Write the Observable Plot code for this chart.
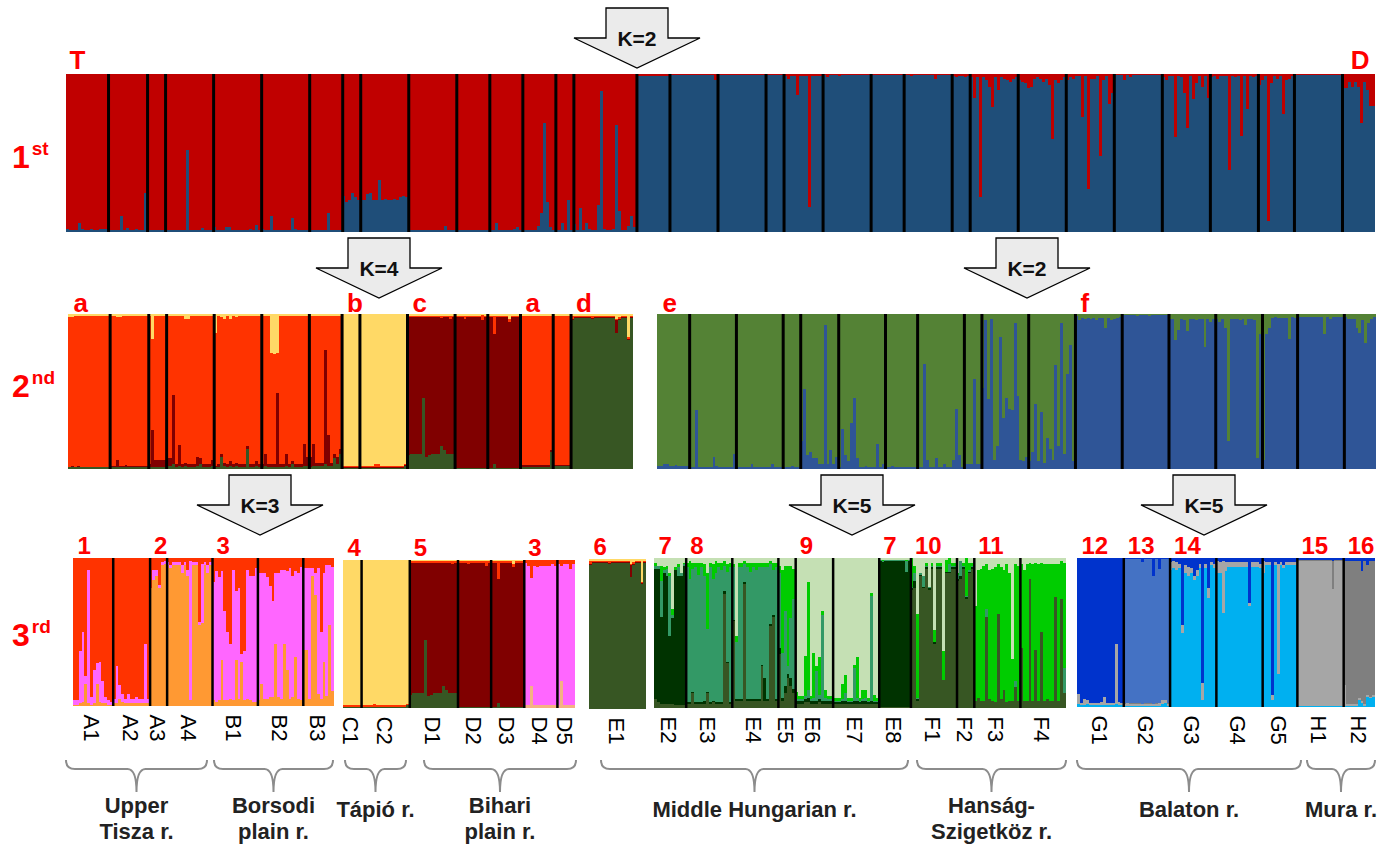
<!DOCTYPE html>
<html>
<head>
<meta charset="utf-8">
<script src="https://cdn.jsdelivr.net/npm/d3@7"></script>
<script src="https://cdn.jsdelivr.net/npm/@observablehq/plot@0.6"></script>
<style>
  body { margin: 0; background: #fff; font-family: "Liberation Sans", Arial, sans-serif; }
  #fig { position: relative; width: 1390px; height: 847px; overflow: hidden; background: #fff; }
  #fig > svg { position: absolute; }
</style>
</head>
<body>
<div id="fig"></div>
<script>
// ---------------------------------------------------------------------------
// Sampling sites and number of genotyped individuals per site
// ---------------------------------------------------------------------------
const popCodes = ["A1","A2","A3","A4","B1","B2","B3","C1","C2","D1","D2","D3","D4","D5",
  "E1","E2","E3","E4","E5","E6","E7","E8","F1","F2","F3","F4","G1","G2","G3","G4","G5","H1","H2"];
const sampleSizes = [14,13,6,16,16,16,11,6,16,16,11,11,11,6,
  21,11,16,16,6,13,16,11,16,6,16,16,16,16,16,16,12,16,11];

// Each entry: [site, typical membership, deviating individuals]
// Membership lists follow the stacking order of the panel (bottom -> top).
// A single number is the share of the bottom cluster of a K = 2 run.
// Deviations are {index: membership} or a full list for every individual.

// 1st level, K = 2 : share of cluster D (bottom), the rest is cluster T
const level1Clusters = ["D", "T"];
const level1 = [
  ["A1", .015, {0:.02,4:.06,5:.02,8:.02,11:.02,12:.02,13:.02}],
  ["A2", .015, {4:.10,6:.025,9:.02,12:.245}],
  ["A3", .01, {2:.015}],
  ["A4", .01, {7:.52,12:.025}],
  ["B1", .015, {0:.03,4:.03,5:.03,12:.02,14:.045}],
  ["B2", .015, {0:.02,3:.10,10:.09,11:.02}],
  ["B3", .01, {6:.12,7:.015}],
  ["C1", .20, {0:.23,1:.19,3:.245,4:.22}],
  ["C2", .20, {2:.24,3:.25,6:.33,8:.21,11:.21,13:.22,14:.23,15:.22}],
  ["D1", .01, {1:.015,12:.04}],
  ["D2", .01, {5:.015}],
  ["D3", .01, {2:.055,8:.02,9:.03}],
  ["D4", .015, {5:.04,6:.12,7:.69,8:.19,9:.03}],
  ["D5", .015, {2:.06,4:.20}],
  ["E1", .015, {0:.05,2:.15,4:.06,5:.02,8:.17,9:.89,10:.02,13:.02,14:.68,15:.13,18:.04,19:.10,20:.03}],
  ["E2", .99, {3:.985,6:.985}],
  ["E3", .992, {15:.965}],
  ["E4", .994, {}],
  ["E5", .994, {}],
  ["E6", .99, {1:.97,4:.87,8:.16}],
  ["E7", .994, {1:.98,5:.988}],
  ["E8", .994, {}],
  ["F1", .992, {2:.988,10:.97}],
  ["F2", .988, {1:.98,4:.98}],
  ["F3", .98, {1:.85,3:.22,5:.96,6:.915,7:.79,9:.90,11:.97,12:.96,13:.95,14:.97}],
  ["F4", .97, {0:.96,1:.95,2:.94,3:.91,4:.92,6:.98,8:.95,10:.93,11:.59,12:.96,13:.94,14:.96,15:.98}],
  ["G1", .985, {0:.96,1:.98,2:.97,5:.73,7:.27,8:.97,9:.97,11:.48,12:.96,14:.81,15:.88}],
  ["G2", .992, {3:.96,5:.98}],
  ["G3", .985, {0:.98,1:.96,4:.60,6:.98,7:.88,8:.66,10:.84,11:.94,13:.92,15:.85}],
  ["G4", .988, {0:.98,2:.97,6:.39,8:.98,10:.61,12:.78,14:.98}],
  ["G5", .985, {0:.93,1:.96,3:.07,4:.94,6:.97,8:.75,9:.96,10:.97}],
  ["H1", .994, {}],
  ["H2", .95, {0:.91,1:.91,3:.92,5:.92,6:.69,8:.90,9:.80,10:.80}]
];

// 2nd level, western group, K = 4 : clusters d, c, a, b (bottom -> top)
const level2WestClusters = ["d", "c", "a", "b"];
const level2West = [
  ["A1", [.01,.005,.975,.01], {0:[.01,.005,.965,.02],1:[.015,.005,.96,.02],3:[.01,.01,.97,.01]}],
  ["A2", [.01,.01,.97,.01], {2:[.01,.05,.92,.02],3:[.01,.01,.96,.02],5:[.015,.01,.96,.015]}],
  ["A3", [.01,.05,.93,.01], {0:[.01,.02,.96,.01],1:[.01,.24,.59,.16]}],
  ["A4", [.015,.02,.955,.01], {0:[.02,.05,.92,.01],1:[.02,.05,.92,.01],2:[.03,.445,.515,.01],4:[.02,.136,.834,.01],6:[.02,.02,.925,.035],7:[.01,.02,.94,.03],10:[.02,.06,.91,.01],11:[.03,.04,.92,.01],15:[.02,.04,.93,.01]}],
  ["B1", [.015,.015,.955,.015], {0:[.01,.01,.86,.12],2:[.08,.02,.88,.02],3:[.02,.02,.93,.03],5:[.02,.03,.92,.03],7:[.02,.02,.94,.02],11:[.13,.02,.84,.01],14:[.02,.03,.94,.01]}],
  ["B2", [.015,.015,.96,.01], {1:[.02,.08,.89,.01],3:[.01,.02,.72,.25],4:[.01,.02,.71,.26],5:[.01,.48,.26,.25],8:[.02,.08,.89,.01],10:[.03,.02,.94,.01],14:[.02,.14,.83,.01],15:[.02,.06,.91,.01]}],
  ["B3", [.02,.02,.95,.01], {0:[.01,.07,.91,.01],1:[.02,.14,.83,.01],5:[.03,.74,.22,.01],6:[.02,.20,.77,.01],8:[.07,.03,.89,.01],9:[.03,.05,.91,.01],10:[.10,.03,.86,.01]}],
  ["C1", [.005,.005,.01,.98], {}],
  ["C2", [.005,.005,.01,.98], {5:[.005,.01,.02,.965],6:[.005,.005,.02,.97],15:[.02,.005,.005,.97]}],
  ["D1", [.10,.88,.01,.01], {0:[.09,.89,.01,.01],5:[.46,.52,.01,.01],6:[.08,.90,.01,.01],7:[.09,.89,.01,.01],11:[.147,.83,.013,.01],12:[.12,.86,.01,.01],14:[.10,.87,.02,.01]}],
  ["D2", [.005,.975,.01,.01], {3:[.005,.965,.02,.01],9:[.005,.955,.035,.005]}],
  ["D3", [.005,.975,.01,.01], {2:[.035,.835,.12,.01],7:[.005,.945,.02,.03]}],
  ["D4", [.015,.01,.965,.01], {10:[.11,.01,.87,.01]}],
  ["D5", [.02,.005,.965,.01], {}],
  ["E1", [.975,.005,.01,.01], {0:[.96,.005,.02,.015],7:[.965,.01,.015,.01],15:[.88,.08,.01,.03],16:[.96,.01,.01,.02],19:[.835,.005,.01,.15]}]
];

// 2nd level, eastern group, K = 2 : share of cluster f (bottom), the rest is cluster e
const level2EastClusters = ["f", "e"];
const level2East = [
  ["E2", .02, {2:.035,3:.03,6:.025}],
  ["E3", .015, {2:.38,8:.08,9:.02,15:.10}],
  ["E4", .015, {5:.03,12:.03}],
  ["E5", .015, {3:.02}],
  ["E6", .03, {0:.18,1:.515,2:.09,3:.11,4:.07,5:.07,8:.93,10:.12,12:.08}],
  ["E7", .015, {1:.26,2:.09,3:.05,4:.30,5:.46,6:.07,9:.02,13:.16,15:.03}],
  ["E8", .015, {2:.02}],
  ["F1", .015, {2:.68,3:.06,6:.07,9:.03,12:.06,13:.385,14:.09}],
  ["F2", .03, {3:.58}],
  ["F3", .05, {0:.52,1:.96,2:.45,3:.97,4:.06,5:.15,6:.85,7:.33,8:.46,9:.39,10:.38,11:.94,12:.47,13:.06,15:.08}],
  ["F4", .05, {1:.11,2:.42,4:.37,5:.04,6:.20,7:.13,8:.06,9:.67,10:.15,11:.94,12:.10,13:.61,14:.80}],
  ["G1", .975, {0:.99,1:.96,3:.97,5:.97,7:.96,10:.91,12:.96,13:.97,15:.98}],
  ["G2", .992, {5:.985,9:.99}],
  ["G3", .97, {2:.83,3:.90,5:.96,6:.89,8:.97,9:.96,12:.79,14:.95}],
  ["G4", .97, {1:.95,3:.91,4:.18,8:.96,10:.93,13:.96,14:.07,15:.87}],
  ["G5", .975, {0:.06,1:.87,2:.91,4:.98,9:.84,10:.98}],
  ["H1", .98, {9:.87,11:.97}],
  ["H2", .97, {0:.98,4:.91,5:.88,6:.96,7:.81,8:.94,10:.98}]
];

// 3rd level, Upper Tisza + Borsodi plain, K = 3 : clusters 2, 3, 1 (bottom -> top)
const level3TiszaClusters = ["2", "3", "1"];
const level3Tisza = [
  ["A1", null, [[.01,.03,.96],[.01,.03,.96],[.02,.35,.63],[.03,.47,.50],[.15,.05,.80],[.02,.90,.08],[.01,.05,.94],[.02,.22,.76],[.15,.14,.71],[.03,.27,.70],[.02,.15,.83],[.02,.04,.94],[.01,.03,.96],[.01,.02,.97]]],
  ["A2", [.02,.03,.95], {1:[.02,.25,.73],2:[.05,.09,.86],3:[.03,.05,.92],5:[.02,.06,.92],8:[.02,.04,.94],11:[.02,.40,.58]}],
  ["A3", null, [[.80,0,.20],[.85,.07,.08],[.88,.04,.08],[.80,.02,.18],[.95,.02,.03],[.96,.02,.02]]],
  ["A4", [.95,.02,.03], {1:[.93,.02,.05],5:[.90,.05,.05],7:[.88,.04,.08],8:[.04,.94,.02],11:[.55,.02,.43],12:[.56,.40,.04],14:[.90,.05,.05]}],
  ["B1", null, [[.04,.80,.16],[.03,.88,.09],[.04,.83,.13],[.31,.60,.09],[.04,.60,.36],[.04,.46,.50],[.05,.37,.58],[.04,.88,.08],[.31,.47,.22],[.05,.75,.20],[.30,.05,.65],[.04,.33,.63],[.05,.87,.08],[.04,.84,.12],[.03,.85,.12],[.03,.90,.07]]],
  ["B2", null, [[.04,.86,.10],[.15,.75,.10],[.05,.85,.10],[.05,.82,.13],[.06,.75,.19],[.06,.65,.29],[.42,.48,.10],[.06,.84,.10],[.05,.87,.08],[.42,.50,.08],[.24,.67,.09],[.05,.88,.07],[.06,.82,.12],[.33,.58,.09],[.05,.85,.10],[.04,.90,.06]]],
  ["B3", null, [[.38,.55,.07],[.38,.55,.07],[.05,.88,.07],[.88,.05,.07],[.75,.15,.10],[.08,.85,.07],[.05,.45,.50],[.30,.60,.10],[.07,.88,.05],[.55,.40,.05],[.10,.84,.06]]]
];

// 3rd level, Tápió + Bihari plain : clusters 5-green, peach, 3, 5, 1, 4 (bottom -> top)
const level3BiharClusters = ["g", "p", "3", "5", "1", "4"];
const level3Bihar = [
  ["C1", [.005,0,0,.005,.01,.98], {}],
  ["C2", [.005,0,0,.005,.01,.98], {4:[.005,0,0,.005,.02,.97],15:[.02,0,0,0,.01,.97]}],
  ["D1", [.10,0,0,.88,.01,.01], {0:[.09,0,0,.89,.01,.01],5:[.46,0,0,.52,.01,.01],6:[.08,0,0,.90,.01,.01],7:[.09,0,0,.89,.01,.01],11:[.147,0,0,.83,.013,.01],12:[.12,0,0,.86,.01,.01],14:[.10,0,0,.87,.02,.01]}],
  ["D2", [.005,0,0,.975,.01,.01], {3:[.005,0,0,.965,.02,.01],9:[.005,0,0,.955,.035,.005]}],
  ["D3", [.005,0,0,.975,.01,.01], {2:[.035,0,0,.835,.12,.01],7:[.005,0,0,.945,.02,.03]}],
  ["D4", [0,.02,.94,0,.04,0], {0:[0,.02,.96,0,.02,0],2:[0,.15,.73,0,.12,0],4:[0,.02,.93,0,.05,0],9:[0,.02,.95,0,.03,0]}],
  ["D5", [0,.02,.95,0,.03,0], {1:[0,.18,.78,0,.04,0],4:[0,.02,.92,0,.06,0]}]
];

// 3rd level, E1 on its own : clusters 6, dark red, red, yellow (bottom -> top)
const level3E1Clusters = ["6", "dr", "r", "y"];
const level3E1 = [
  ["E1", [.975,.005,.01,.01], {0:[.96,.005,.02,.015],7:[.965,.01,.015,.01],15:[.88,.08,.01,.03],16:[.96,.01,.01,.02],19:[.835,.005,.01,.15]}]
];

// 3rd level, Middle Hungarian + Hanság-Szigetköz, K = 5 : clusters 10, 7, 8, 11, 9 (bottom -> top)
const level3MiddleClusters = ["10", "7", "8", "11", "9"];
const level3Middle = [
  ["E2", null, [[.06,.87,.02,.02,.03],[.04,.89,.02,0,.05],[.03,.58,.24,.10,.05],[.03,.87,.02,.02,.06],[.03,.85,.05,.02,.05],[.03,.45,.40,.02,.10],[.03,.57,.02,.04,.34],[.02,.90,0,.02,.06],[.02,.86,.06,.02,.04],[.02,.86,.02,0,.10],[.02,.93,.01,.01,.03]]],
  ["E3", [.03,.01,.90,.03,.03], {1:[.03,.01,.82,.12,.02],2:[.10,.01,.82,.04,.03],4:[.03,.01,.85,.08,.03],6:[.03,.02,.83,.08,.04],7:[.10,.01,.42,.37,.10],9:[.04,.01,.81,.10,.04],10:[.03,.01,.86,.08,.02],12:[.03,.01,.88,.05,.03],13:[.76,.02,.17,.03,.02],14:[.30,.01,.60,.05,.04]}],
  ["E4", [.05,.01,.88,.03,.03], {0:[.58,.01,.35,.02,.04],1:[.05,.01,.38,.04,.52],4:[.83,.01,.12,.02,.02],6:[.05,.01,.85,.06,.03],8:[.05,.01,.86,.05,.03],10:[.28,.01,.65,.03,.03],11:[.05,.15,.74,.03,.03],13:[.55,.01,.40,.02,.02],14:[.61,.01,.30,.05,.03]}],
  ["E5", null, [[.36,.04,.50,.05,.05],[.05,.02,.30,.55,.08],[.10,.05,.50,.30,.05],[.20,.03,.05,.67,.05],[.15,.05,.40,.35,.05],[.10,.03,.60,.20,.07]]],
  ["E6", [.03,.02,.01,.02,.92], {0:[.03,.02,.01,.05,.89],3:[.04,.02,.02,.27,.65],4:[.04,.03,.05,.72,.16],6:[.03,.02,.02,.30,.63],7:[.03,.02,.20,.03,.72],8:[.04,.02,.03,.25,.66],9:[.03,.02,.57,.03,.35],10:[.03,.02,.02,.05,.88]}],
  ["E7", [.025,.015,.01,.02,.93], {3:[.03,.02,.01,.10,.84],4:[.03,.02,.05,.12,.78],7:[.03,.02,.22,.02,.71],8:[.03,.02,.02,.27,.66],10:[.03,.02,.01,.06,.88],11:[.03,.02,.02,.05,.88],13:[.03,.02,.70,.02,.23],14:[.03,.01,.01,.04,.91]}],
  ["E8", [.005,.975,.005,.005,.01], {1:[.005,.97,.005,.01,.01],9:[.01,.90,.07,.01,.01]}],
  ["F1", [.93,.01,.01,.02,.03], {0:[.79,.01,.01,.19,0],1:[.80,.05,.05,.05,.05],2:[.05,.01,.01,.56,.37],3:[.88,.01,.01,0,.10],4:[.80,.01,.07,0,.12],6:[.79,.01,.01,0,.19],8:[.43,.01,0,.08,.48],11:[.19,0,0,.19,.62],12:[.90,.01,0,.08,.01],13:[.90,.01,.05,.04,0]}],
  ["F2", [.93,.01,.01,.02,.03], {0:[.85,.01,.03,.01,.10],1:[.86,.02,.10,0,.02],3:[.73,.01,.01,.25,0],4:[.90,.01,.01,.05,.03]}],
  ["F3", null, [[.05,0,0,.63,.32],[.07,0,0,.85,.08],[.05,0,0,.88,.07],[.05,0,0,.90,.05],[.61,0,.05,.30,.04],[.06,0,0,.86,.08],[.05,0,0,.88,.07],[.04,0,0,.90,.06],[.63,0,0,.33,.04],[.06,0,0,.88,.06],[.12,0,0,.80,.08],[.04,0,0,.92,.04],[.05,0,0,.85,.10],[.05,0,0,.28,.67],[.14,0,.04,.78,.04],[.05,0,0,.90,.05]]],
  ["F4", [.05,0,0,.91,.04], {0:[.40,0,0,.56,.04],1:[.05,0,0,.87,.08],3:[.86,0,0,.11,.03],5:[.39,0,0,.58,.03],7:[.51,0,0,.46,.03],9:[.06,0,0,.90,.04],12:[.74,0,0,.22,.04],14:[.73,0,0,.25,.02],15:[.10,0,.17,.70,.03]}]
];

// 3rd level, Balaton + Mura, K = 5 : clusters 14, 15, 16, 13, 12 (bottom -> top)
const level3BalatonClusters = ["14", "15", "16", "13", "12"];
const level3Balaton = [
  ["G1", [.015,.01,.005,0,.97], {0:[.02,.07,0,0,.91],2:[.015,.04,0,0,.945],3:[.02,.03,0,0,.95],8:[.015,.02,0,0,.965],9:[.015,.05,0,0,.935],13:[.02,.40,0,0,.58],14:[.015,.02,0,0,.965]}],
  ["G2", [.01,.01,.005,.97,.005], {1:[.01,.02,0,.96,.01],6:[.01,.01,0,.95,.03],10:[.01,.01,0,.86,.12],12:[.01,.015,0,.90,.075],13:[.02,.03,0,.94,.01],14:[.03,.02,0,.94,.01]}],
  ["G3", [.93,.03,0,0,.04], {0:[.92,.05,0,0,.03],1:[.93,.05,0,0,.02],2:[.92,.05,0,0,.03],4:[.50,.05,0,0,.45],5:[.90,.05,0,0,.05],6:[.88,.06,0,0,.06],7:[.90,.03,0,0,.07],8:[.85,.03,0,0,.12],9:[.88,.04,0,0,.08],11:[.05,.11,0,0,.84],13:[.73,.07,0,0,.20],14:[.95,.02,0,0,.03]}],
  ["G4", [.94,.03,0,0,.03], {0:[.90,.08,0,0,.02],1:[.90,.07,0,0,.03],2:[.63,.35,0,0,.02],3:[.91,.06,0,0,.03],11:[.68,.02,0,0,.30],15:[.93,.03,0,0,.04]}],
  ["G5", [.95,.02,0,0,.03], {0:[.90,.08,0,0,.02],3:[.05,.03,0,0,.92],5:[.22,.74,0,0,.04],7:[.93,.02,0,0,.05]}],
  ["H1", [.01,.97,.005,0,.015], {12:[.01,.78,.19,0,.02]}],
  ["H2", [.01,.01,.96,0,.02], {0:[.01,.14,.83,0,.02],5:[.05,.01,.92,0,.02],6:[.03,.01,.87,0,.09],8:[.07,.01,.87,0,.05],9:[.06,.01,.91,0,.02],10:[.07,.01,.90,0,.02]}]
];

// Cluster letters / numbers written above the bar plots: [site, label]
const level1Heads = [["A1", "T"]];
const level1TailHeads = [["H2", "D"]];
const level2WestHeads = [["A1","a"],["C1","b"],["D1","c"],["D4","a"],["E1","d"]];
const level2EastHeads = [["E2","e"],["G1","f"]];
const level3TiszaHeads = [["A1","1"],["A3","2"],["B1","3"]];
const level3BiharHeads = [["C1","4"],["D1","5"],["D4","3"]];
const level3E1Heads = [["E1","6"]];
const level3MiddleHeads = [["E2","7"],["E3","8"],["E6","9"],["E8","7"],["F1","10"],["F3","11"]];
const level3BalatonHeads = [["G1","12"],["G2","13"],["G3","14"],["H1","15"],["H2","16"]];

// Regions (one brace each)
const regionNames = [["Upper", "Tisza r."], ["Borsodi", "plain r."], ["Tápió r."], ["Bihari", "plain r."],
  ["Middle Hungarian r."], ["Hanság-", "Szigetköz r."], ["Balaton r."], ["Mura r."]];

// Successive STRUCTURE runs (arrow labels)
const runLabels = ["K=2", "K=4", "K=2", "K=3", "K=5", "K=5"];

// ---------------------------------------------------------------------------
const fig = d3.select("#fig");
const RED = "#FF0000";
const FONT = "'Liberation Sans', Arial, Helvetica, sans-serif";

// Turn a panel specification into stacked rectangles, one column per individual
function expand(spec) {
  const rows = [], sites = [];
  let i = 0;
  for (const [code, base, extra] of spec) {
    const n = sampleSizes[popCodes.indexOf(code)];
    sites.push({code, start: i, end: i + n, mid: i + n / 2});
    for (let j = 0; j < n; j++, i++) {
      let q = Array.isArray(extra) ? extra[j] : (extra[j] ?? base);
      if (typeof q === "number") q = [q, 1 - q];
      const total = d3.sum(q);
      let acc = 0;
      q.forEach((v, k) => {
        if (v > 0) rows.push({i, k, y1: acc / total, y2: (acc + v) / total});
        acc += v;
      });
    }
  }
  return {rows, sites, n: i};
}

function structurePanel({spec, colors, left, top, width, height, sep = 3,
                         heads = [], tailHeads = [], headSize = 24, headGap = 5, headDx = 4,
                         ticks = false}) {
  const {rows, sites, n} = expand(spec);
  const siteOf = code => sites.find(s => s.code === code);
  const mt = 40, mb = ticks ? 60 : 6, ml = 12, mr = 12;
  const marks = [
    Plot.rect(rows, {x1: "i", x2: d => d.i + 1, y1: "y1", y2: "y2", fill: "k", shapeRendering: "crispEdges"}),
    Plot.ruleX(sites.slice(1), {x: "start", stroke: "#000", strokeWidth: sep}),
    Plot.text(heads, {x: d => siteOf(d[0]).start, y: 1, text: d => d[1], textAnchor: "start", lineAnchor: "bottom",
      dx: headDx, dy: -headGap, fill: RED, fontWeight: "bold", fontSize: headSize, fontFamily: FONT}),
    Plot.text(tailHeads, {x: d => siteOf(d[0]).end, y: 1, text: d => d[1], textAnchor: "end", lineAnchor: "bottom",
      dx: -6, dy: -headGap, fill: RED, fontWeight: "bold", fontSize: headSize, fontFamily: FONT})
  ];
  if (ticks) {
    marks.push(Plot.text(sites, {x: "mid", y: 0, text: "code", rotate: 90, textAnchor: "start",
      dy: 8, dx: -2, fontSize: 22, fill: "#000", fontFamily: FONT}));
  }
  const svg = Plot.plot({
    width: width + ml + mr, height: height + mt + mb,
    marginTop: mt, marginBottom: mb, marginLeft: ml, marginRight: mr,
    x: {domain: [0, n], axis: null},
    y: {domain: [0, 1], axis: null},
    color: {type: "ordinal", domain: d3.range(colors.length), range: colors},
    style: {background: "none", overflow: "visible"},
    marks
  });
  svg.style.position = "absolute";
  svg.style.left = (left - ml) + "px";
  svg.style.top = (top - mt) + "px";
  fig.node().appendChild(svg);
}

// 1st level
structurePanel({spec: level1, colors: ["#1F4E79", "#C00000"], left: 66, top: 74, width: 1309, height: 158,
  heads: level1Heads, tailHeads: level1TailHeads, headSize: 26, headGap: 6, headDx: 3});

// 2nd level
structurePanel({spec: level2West, colors: ["#375623", "#800000", "#FF3300", "#FFD966"],
  left: 68, top: 314, width: 565, height: 155, heads: level2WestHeads, headSize: 26, headGap: 3, headDx: 5});
structurePanel({spec: level2East, colors: ["#2F5597", "#548235"],
  left: 657, top: 314, width: 719, height: 155, heads: level2EastHeads, headSize: 26, headGap: 3, headDx: 5});

// 3rd level
structurePanel({spec: level3Tisza, colors: ["#FF9933", "#FF66FF", "#FF3300"],
  left: 73, top: 558, width: 261, height: 148, sep: 2.5, heads: level3TiszaHeads, ticks: true});
structurePanel({spec: level3Bihar, colors: ["#375623", "#F4B183", "#FF66FF", "#800000", "#FF3300", "#FFD966"],
  left: 343, top: 560, width: 232, height: 148, sep: 2.5, heads: level3BiharHeads, ticks: true});
structurePanel({spec: level3E1, colors: ["#375623", "#800000", "#FF3300", "#FFD966"],
  left: 589, top: 559, width: 57, height: 150, sep: 2.5, heads: level3E1Heads, ticks: true});
structurePanel({spec: level3Middle, colors: ["#375623", "#003300", "#339966", "#00CC00", "#C5E0B4"],
  left: 654, top: 558, width: 412, height: 150, sep: 2.5, heads: level3MiddleHeads, ticks: true});
structurePanel({spec: level3Balaton, colors: ["#00B0F0", "#A6A6A6", "#7F7F7F", "#4472C4", "#0033CC"],
  left: 1077, top: 558, width: 298, height: 149, sep: 2.5, heads: level3BalatonHeads, ticks: true});

// ---------------------------------------------------------------------------
// Annotation layer: run arrows, level labels, region braces and names
const ann = fig.append("svg")
  .attr("width", 1390).attr("height", 847)
  .style("left", "0px").style("top", "0px")
  .style("pointer-events", "none")
  .attr("font-family", FONT);

// down-pointing block arrow centred on cx, starting at y0
const arrowAt = [[637, 8], [379, 238], [1027, 238], [260, 475], [852, 475], [1204, 475]];
arrowAt.forEach(([cx, y0], idx) => {
  const sw = 31, hw = 63, sh = 30, h = 60;
  ann.append("path")
    .attr("d", `M${cx - sw},${y0} H${cx + sw} V${y0 + sh} H${cx + hw} L${cx},${y0 + h} L${cx - hw},${y0 + sh} H${cx - sw} Z`)
    .attr("fill", "#EBEBEB").attr("stroke", "#000").attr("stroke-width", 1.3).attr("stroke-linejoin", "miter");
  ann.append("text").attr("x", cx).attr("y", y0 + 38).attr("text-anchor", "middle")
    .attr("font-size", 21).attr("font-weight", "bold").attr("fill", "#111").text(runLabels[idx]);
});

// level labels 1st / 2nd / 3rd
[["1", "st", 168], ["2", "nd", 397], ["3", "rd", 646]].forEach(([num, sup, y]) => {
  const t = ann.append("text").attr("x", 12).attr("y", y).attr("fill", RED)
    .attr("font-weight", "bold").attr("font-size", 32).text(num);
  t.append("tspan").attr("font-size", 19).attr("dy", -13).attr("dx", 2).text(sup);
});

// region braces
const braceSpans = [[66, 207], [214, 333], [345, 406], [424, 576], [601, 908], [917, 1066], [1077, 1301], [1307, 1375]];
braceSpans.forEach(([x0, x1], idx) => {
  const cx = (x0 + x1) / 2, yt = 760, r = 9, tip = 32;
  ann.append("path")
    .attr("d", `M${x0},${yt} Q${x0},${yt + r} ${x0 + r},${yt + r} H${cx - r} Q${cx},${yt + r} ${cx},${yt + tip} ` +
               `Q${cx},${yt + r} ${cx + r},${yt + r} H${x1 - r} Q${x1},${yt + r} ${x1},${yt}`)
    .attr("fill", "none").attr("stroke", "#8C8C8C").attr("stroke-width", 2);
  const lines = regionNames[idx];
  const base = lines.length === 2 ? 813 : 817;
  lines.forEach((line, li) => {
    ann.append("text").attr("x", cx).attr("y", base + li * 26).attr("text-anchor", "middle")
      .attr("font-size", 22).attr("font-weight", "bold").attr("fill", "#222").text(line);
  });
});
</script>
</body>
</html>
